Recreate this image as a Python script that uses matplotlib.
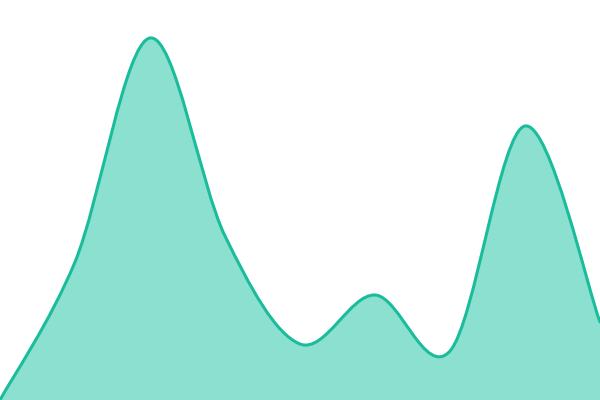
"""
Smoothed area chart, no axes: a single turquoise series filled to the baseline.
"""

import numpy as np
import matplotlib
matplotlib.use("Agg")
import matplotlib.pyplot as plt
from matplotlib.path import Path
from matplotlib.patches import PathPatch

# Data (equally spaced samples)
positions = [0, 1, 2, 3, 4, 5, 6, 7, 8]
values = [0, 138, 362, 164, 56, 105, 49, 274, 78]

LINE_COLOR = "#1abc9c"
FILL_COLOR = "#8be0cf"


def smooth_path(xs, ys, close_to=None):
    # Catmull-Rom spline turned into cubic bezier segments
    pts = np.column_stack([xs, ys]).astype(float)
    n = len(pts)
    verts = [pts[0]]
    codes = [Path.MOVETO]
    for i in range(n - 1):
        p0 = pts[max(i - 1, 0)]
        p1 = pts[i]
        p2 = pts[i + 1]
        p3 = pts[min(i + 2, n - 1)]
        c1 = p1 + (p2 - p0) / 6.0
        c2 = p2 - (p3 - p1) / 6.0
        verts += [c1, c2, p2]
        codes += [Path.CURVE4] * 3
    if close_to is not None:
        verts += [(pts[-1][0], close_to), (pts[0][0], close_to), pts[0]]
        codes += [Path.LINETO, Path.LINETO, Path.CLOSEPOLY]
    return Path(verts, codes)


def main():
    fig = plt.figure(figsize=(6, 4), dpi=100)
    ax = fig.add_axes([0, 0, 1, 1])

    ax.add_patch(PathPatch(smooth_path(positions, values, close_to=0),
                           facecolor=FILL_COLOR, edgecolor="none"))
    ax.add_patch(PathPatch(smooth_path(positions, values),
                           facecolor="none", edgecolor=LINE_COLOR,
                           linewidth=2.2, capstyle="round", joinstyle="round"))

    ax.set_xlim(positions[0], positions[-1])
    ax.set_ylim(0, 400)
    ax.axis("off")

    fig.savefig("out.png", dpi=100, facecolor="white")


if __name__ == "__main__":
    main()
